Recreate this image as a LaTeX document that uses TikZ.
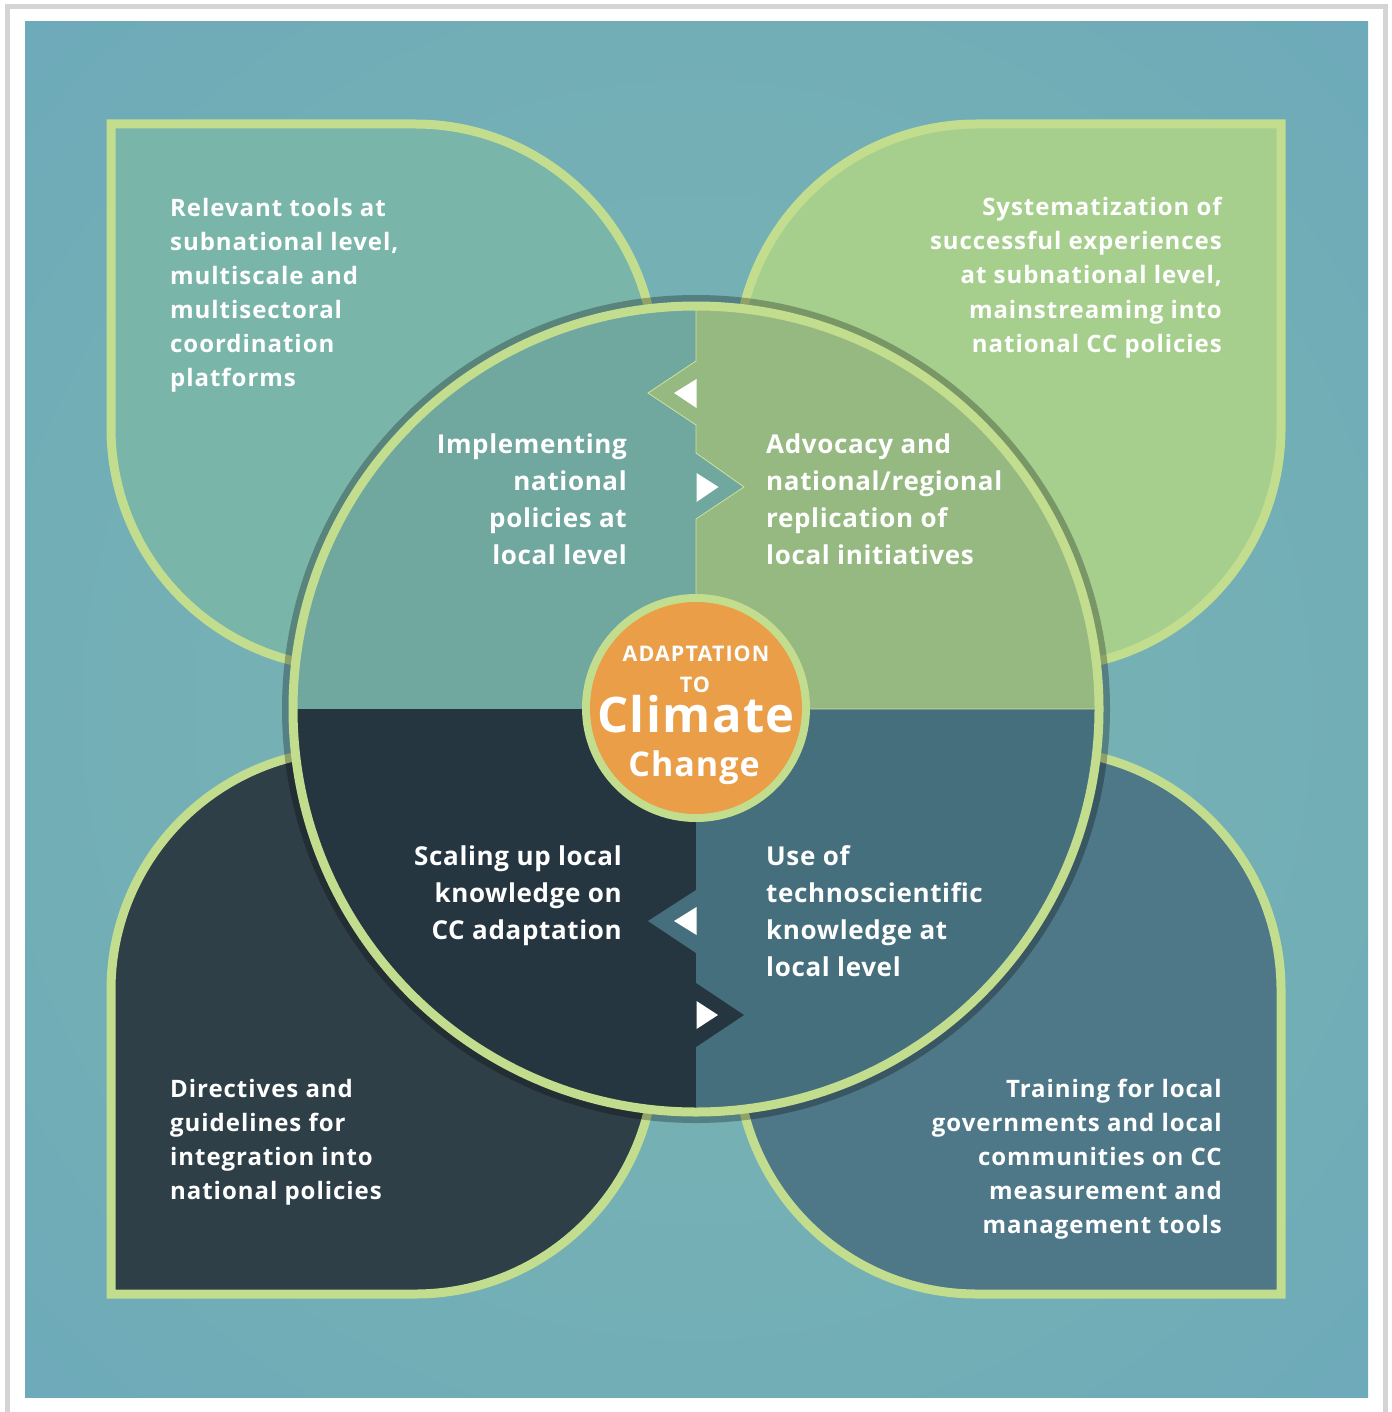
\documentclass[tikz,border=0pt]{standalone}
\usepackage{fontspec}
\setmainfont{Open Sans}
\newfontfamily\outerfont{Open Sans}[LetterSpace=4]
\newfontfamily\innerfont{Open Sans}[LetterSpace=2.5]
\newfontfamily\centrefont{Open Sans}[LetterSpace=3]
\newfontfamily\capsfont{Open Sans}[LetterSpace=5]
\definecolor{frame}{HTML}{D4D4D4}
\definecolor{bgin}{HTML}{7AB4B2}
\definecolor{bgmid}{HTML}{72AEB6}
\definecolor{bgmid2}{HTML}{6BA8BC}
\definecolor{bgout}{HTML}{68A4C0}
\definecolor{lborder}{HTML}{C3DD8F}
\definecolor{leafTL}{HTML}{7AB5AA}
\definecolor{leafTR}{HTML}{A6CF8D}
\definecolor{leafBL}{HTML}{2F3F48}
\definecolor{leafBR}{HTML}{4E7888}
\definecolor{quadTL}{HTML}{70A89F}
\definecolor{quadTR}{HTML}{95B980}
\definecolor{quadBL}{HTML}{263640}
\definecolor{quadBR}{HTML}{466F7D}
\definecolor{orangec}{HTML}{EB9E48}
\definecolor{thinline}{HTML}{D2E39A}
\pgfdeclareradialshading{bgshade}{\pgfpoint{0bp}{0bp}}{color(0bp)=(bgin); color(25bp)=(bgmid); color(40bp)=(bgmid2); color(50bp)=(bgout); color(72bp)=(bgout)}
\begin{document}
\begin{tikzpicture}[x=1pt,y=-1pt,
  outertext/.style={text=white, font=\outerfont\fontsize{24}{34}\selectfont\bfseries, inner sep=0pt},
  innertext/.style={text=white, font=\innerfont\fontsize{26}{37}\selectfont\bfseries, inner sep=0pt},
  centretext/.style={text=white, inner sep=0pt, anchor=base},
  leafstyle/.style={draw=lborder, line width=9pt, line join=miter},
  arrowtri/.style={fill=white}]
\useasboundingbox (0,0) rectangle (1391,1412);
\fill[white] (0,0) rectangle (1391,1412);
\draw[frame, line width=5pt] (7.5,6.5) rectangle (1385.5,1440);
\shade[shading=bgshade] (25,22) rectangle (1368,1397);
% leaves
\foreach \sx/\sy/\col in {1/1/leafTL, -1/1/leafTR, 1/-1/leafBL, -1/-1/leafBR}{
  \begin{scope}[shift={(696,709)}, xscale=\sx, yscale=\sy, shift={(-696,-709)}]
    \filldraw[leafstyle, fill=\col] (111,124) -- (415,124) .. controls (547.6,124) and (655,231.4) .. (655,364) -- (655,668) -- (351,668) .. controls (218.4,668) and (111,560.6) .. (111,428) -- cycle;
  \end{scope}
}
% shadow ring
\draw[black, opacity=0.27, line width=7pt] (696,709) circle (410.5pt);
% quadrants
\begin{scope}
  \clip (696,709) circle (404pt);
  \fill[quadTL] (280,290) rectangle (696,709);
  \fill[quadTR] (696,290) rectangle (1112,709);
  \fill[quadBL] (280,709) rectangle (696,1130);
  \fill[quadBR] (696,709) rectangle (1112,1130);
  \fill[quadTR] (696,361) -- (648,393) -- (696,425) -- cycle;
  \fill[quadTL] (696,453) -- (744,487) -- (696,519) -- cycle;
  \fill[quadBR] (696,890) -- (648,921) -- (696,953) -- cycle;
  \fill[quadBL] (696,983) -- (744,1015) -- (696,1047) -- cycle;
  \draw[thinline, line width=0.8pt] (696,290) -- (696,361) -- (648,393) -- (696,425) -- (696,453) -- (744,487) -- (696,519) -- (696,709) -- (1112,709);
\end{scope}
% white triangles
\fill[arrowtri] (674,393) -- (696.5,379) -- (696.5,408) -- cycle;
\fill[arrowtri] (718.5,487) -- (696.5,473) -- (696.5,502) -- cycle;
\fill[arrowtri] (674,921) -- (696.5,907) -- (696.5,935) -- cycle;
\fill[arrowtri] (718,1015) -- (696.5,1001) -- (696.5,1029) -- cycle;
% circle ring
\draw[lborder, line width=9pt] (696,709) circle (403pt);
% centre
\fill[lborder] (696,708) circle (114pt);
\fill[orangec] (696,708) circle (106pt);
\node[centretext, font=\capsfont\fontsize{21.5}{21.5}\selectfont\bfseries] (cA) at (696,661) {ADAPTATION};
\node[centretext, font=\capsfont\fontsize{21.5}{21.5}\selectfont\bfseries] (cT) at (695,692) {TO};
\node[centretext, font=\centrefont\fontsize{49}{49}\selectfont\bfseries] (cC) at (696,732) {Climate};
\node[centretext, font=\centrefont\fontsize{34}{34}\selectfont\bfseries] (cH) at (694,776) {Change};
% outer texts (anchor on last baseline)
\node[outertext, align=left, anchor=base west] (tTL) at (170,386) {Relevant tools at\\subnational level,\\multiscale and\\multisectoral\\coordination\\platforms};
\node[outertext, align=right, anchor=base east] (tTR) at (1222,352) {Systematization of\\successful experiences\\at subnational level,\\mainstreaming into\\national CC policies};
\node[outertext, align=left, anchor=base west] (tBL) at (170,1199) {Directives and\\guidelines for\\integration into\\national policies};
\node[outertext, align=right, anchor=base east] (tBR) at (1222,1233) {Training for local\\governments and local\\communities on CC\\measurement and\\management tools};
% inner texts
\node[innertext, align=right, anchor=base east] (iTL) at (627,564) {Implementing\\national\\policies at\\local level};
\node[innertext, align=left, anchor=base west] (iTR) at (766,564) {Advocacy and\\national/regional\\replication of\\local initiatives};
\node[innertext, align=right, anchor=base east] (iBL) at (622,939) {Scaling up local\\knowledge on\\CC adaptation};
\node[innertext, align=left, anchor=base west] (iBR) at (766,976) {Use of\\technoscientific\\knowledge at\\local level};
\end{tikzpicture}
\end{document}
